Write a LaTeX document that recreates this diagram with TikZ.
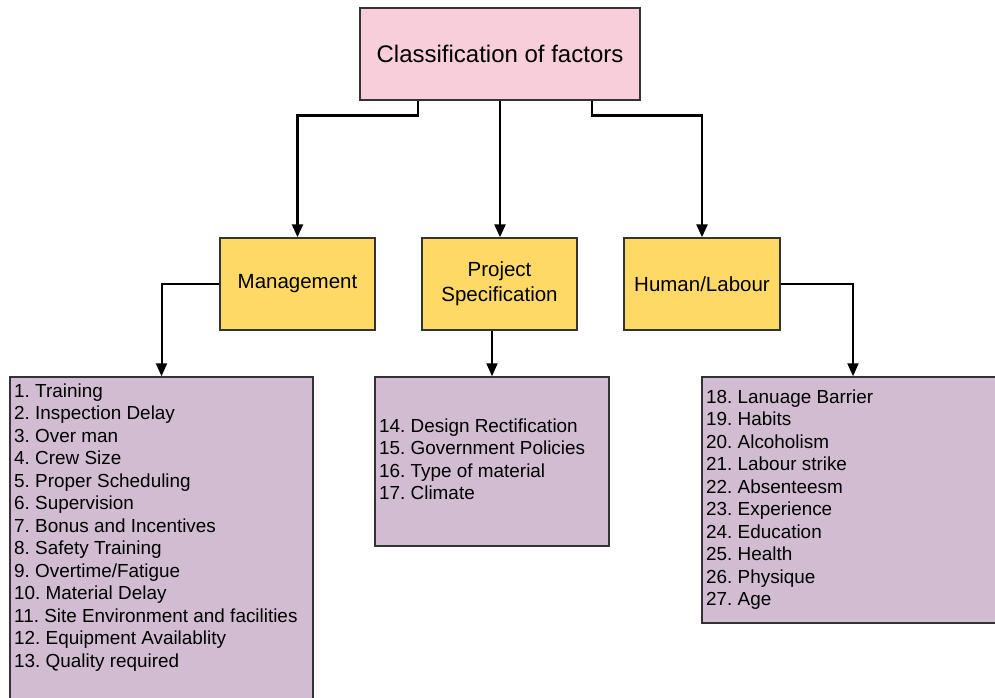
\documentclass[tikz,border=0pt]{standalone}
\usepackage{fontspec}
\setmainfont{Liberation Sans}
\usetikzlibrary{arrows.meta,calc}
\definecolor{pinkbox}{RGB}{248,206,219}
\definecolor{yellowbox}{RGB}{255,217,102}
\definecolor{purplebox}{RGB}{209,188,210}
\definecolor{edgegray}{RGB}{51,51,51}
\frenchspacing
\begin{document}
\begin{tikzpicture}[x=1pt,y=-1pt,
  box/.style={draw=edgegray,line width=1.5pt,inner sep=0pt,align=center},
  topbox/.style={box,fill=pinkbox,minimum width=280pt,minimum height=92pt,font=\fontsize{24}{28}\selectfont},
  catbox/.style={box,fill=yellowbox,minimum width=155pt,minimum height=92pt,font=\fontsize{20.5}{25}\selectfont},
  listbox/.style={box,fill=purplebox},
  listtext/.style={anchor=north west,inner sep=0pt,align=left,font=\fontsize{18.9}{22.5}\selectfont},
  connA/.style={line width=2.6pt,-{Triangle[length=13pt,width=11pt]}},
  connB/.style={line width=2pt,-{Triangle[length=13pt,width=11pt]}}]
\useasboundingbox (0,0) rectangle (995,697);
\node[topbox] (top) at (500,54) {Classification of factors};
\node[catbox] (mgmt) at (297.5,284) {Management};
\node[catbox] (proj) at (499.5,284) {Project\\Specification};
\node[catbox,minimum width=156pt] (hum) at (702,284) {Human/Labour};
\node[listbox,minimum width=303pt,minimum height=333pt] (llist) at (161.5,543.5) {};
\node[listbox,minimum width=234pt,minimum height=169pt] (mlist) at (492,461.5) {};
\node[listbox,minimum width=302pt,minimum height=246pt] (rlist) at (853,500) {};
\node[listtext] (ltext) at (14,383.5) {1. Training\\2. Inspection Delay\\3. Over man\\4. Crew Size\\5. Proper Scheduling\\6. Supervision\\7. Bonus and Incentives\\8. Safety Training\\9. Overtime/Fatigue\\10. Material Delay\\11. Site Environment and facilities\\12. Equipment Availablity\\13. Quality required};
\node[listtext] (mtext) at (379,418.5) {14. Design Rectification\\15. Government Policies\\16. Type of material\\17. Climate};
\node[listtext] (rtext) at (706,389.5) {18. Lanuage Barrier\\19. Habits\\20. Alcoholism\\21. Labour strike\\22. Absenteesm\\23. Experience\\24. Education\\25. Health\\26. Physique\\27. Age};
\draw[connA] ($(top.south)+(-82,0)$) -- ++(0,15) -| (mgmt.north);
\draw[connA] (top.south) -- (top.south |- proj.north);
\draw[connA] ($(top.south)+(92,0)$) -- ++(0,15) -| (hum.north);
\draw[connB] (mgmt.west) -| (llist.north);
\draw[connB] (proj.south -| mlist.north) -- (mlist.north);
\draw[connB] (hum.east) -| (rlist.north);
\end{tikzpicture}
\end{document}
